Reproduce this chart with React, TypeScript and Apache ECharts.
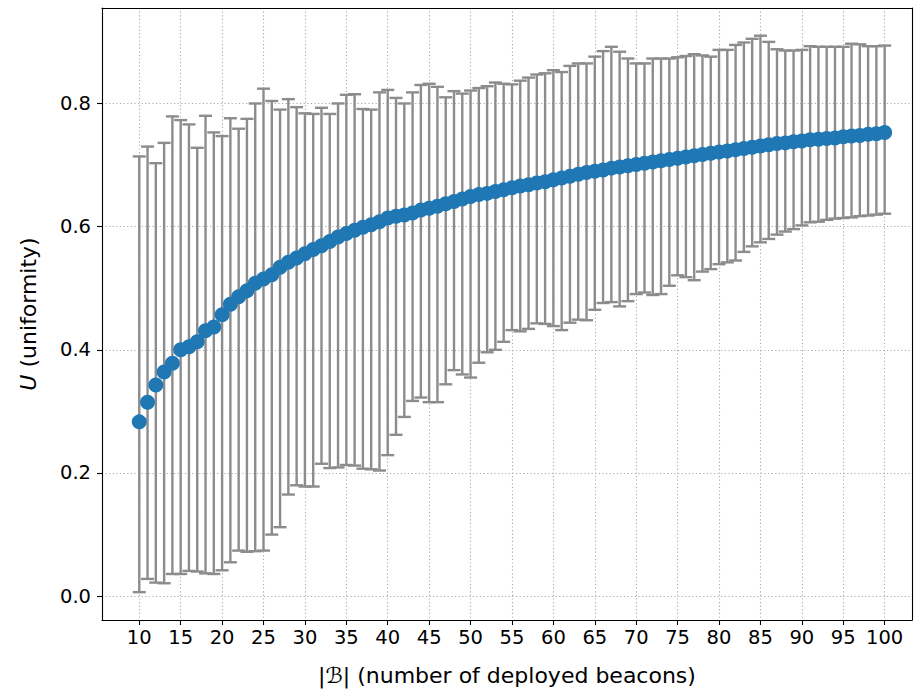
import React, { useEffect, useRef } from "react";
import * as echarts from "echarts";

// Number of deployed beacons |B|
const beacons: number[] = Array.from({ length: 91 }, (_, i) => 10 + i);

// Mean uniformity U per beacon count
const meanU: number[] = [
  0.283, 0.315, 0.343, 0.364, 0.378, 0.4, 0.405, 0.413, 0.431, 0.437,
  0.457, 0.474, 0.486, 0.496, 0.508, 0.515, 0.522, 0.534, 0.542, 0.549,
  0.556, 0.563, 0.569, 0.576, 0.583, 0.589, 0.594, 0.599, 0.603, 0.608,
  0.614, 0.617, 0.619, 0.622, 0.627, 0.63, 0.633, 0.637, 0.641, 0.645,
  0.649, 0.652, 0.654, 0.657, 0.66, 0.663, 0.666, 0.668, 0.671, 0.673,
  0.676, 0.679, 0.682, 0.685, 0.688, 0.69, 0.692, 0.695, 0.697, 0.699,
  0.701, 0.703, 0.705, 0.707, 0.709, 0.711, 0.713, 0.715, 0.717, 0.719,
  0.721, 0.723, 0.725, 0.727, 0.729, 0.731, 0.733, 0.735, 0.736, 0.738,
  0.739, 0.741, 0.742, 0.743, 0.744, 0.746, 0.747, 0.748, 0.75, 0.751,
  0.753,
];

// Upper end of each error bar
const upperU: number[] = [
  0.714, 0.73, 0.703, 0.736, 0.779, 0.773, 0.766, 0.728, 0.78, 0.753,
  0.747, 0.776, 0.759, 0.775, 0.8, 0.824, 0.804, 0.79, 0.807, 0.794,
  0.784, 0.783, 0.793, 0.783, 0.8, 0.814, 0.815, 0.791, 0.79, 0.818,
  0.822, 0.809, 0.8, 0.818, 0.83, 0.832, 0.827, 0.81, 0.82, 0.816,
  0.821, 0.825, 0.828, 0.834, 0.832, 0.831, 0.837, 0.842, 0.847, 0.849,
  0.854, 0.851, 0.861, 0.865, 0.865, 0.876, 0.885, 0.892, 0.884, 0.873,
  0.865, 0.865, 0.873, 0.873, 0.873, 0.875, 0.877, 0.88, 0.878, 0.876,
  0.887, 0.887, 0.895, 0.899, 0.905, 0.91, 0.9, 0.888, 0.886, 0.886,
  0.887, 0.893, 0.892, 0.892, 0.892, 0.892, 0.897, 0.896, 0.893, 0.893,
  0.894,
];

// Lower end of each error bar
const lowerU: number[] = [
  0.0065, 0.028, 0.022, 0.021, 0.036, 0.036, 0.041, 0.04, 0.037, 0.036,
  0.042, 0.055, 0.074, 0.072, 0.073, 0.074, 0.1, 0.112, 0.165, 0.18,
  0.178, 0.178, 0.215, 0.208, 0.209, 0.213, 0.212, 0.207, 0.206, 0.204,
  0.229, 0.262, 0.291, 0.317, 0.3225, 0.315, 0.315, 0.344, 0.367, 0.36,
  0.355, 0.379, 0.396, 0.4, 0.413, 0.432, 0.43, 0.434, 0.443, 0.442,
  0.4385, 0.432, 0.444, 0.449, 0.448, 0.465, 0.476, 0.4775, 0.4705, 0.479,
  0.4905, 0.493, 0.489, 0.4905, 0.504, 0.521, 0.518, 0.513, 0.527, 0.531,
  0.539, 0.542, 0.545, 0.559, 0.568, 0.5745, 0.58, 0.587, 0.592, 0.596,
  0.602, 0.607, 0.608, 0.611, 0.613, 0.614, 0.615, 0.617, 0.618, 0.6195,
  0.621,
];

const xTicks: number[] = [10, 15, 20, 25, 30, 35, 40, 45, 50, 55, 60, 65, 70, 75, 80, 85, 90, 95, 100];
const yTicks: number[] = [0, 0.2, 0.4, 0.6, 0.8];

const FONT = "DejaVu Sans";
const TICK_SIZE = 19.5;
const TITLE_SIZE = 22;
const BAR_COLOR = "#8c8c8c";
const DOT_COLOR = "#1f77b4";

export default function App() {
  const ref = useRef<HTMLDivElement>(null);

  useEffect(() => {
    if (!ref.current) return;
    const chart = echarts.init(ref.current, null, { renderer: "svg" });

    const gridLine = {
      show: true,
      lineStyle: { color: "#ababab", width: 1.1, type: [1.2, 2.4] as any },
    };
    const frame = { show: true, onZero: false, lineStyle: { color: "#000", width: 1.1 } };

    const option: any = {
      animation: false,
      backgroundColor: "#ffffff",
      grid: { left: 102, top: 8, right: 2, bottom: 73, containLabel: false },
      xAxis: [
        {
          type: "value",
          min: 5.5,
          max: 103.3,
          name: "{b||ℬ|} (number of deployed beacons)",
          nameLocation: "middle",
          nameGap: 44,
          nameTextStyle: {
            fontFamily: FONT,
            fontSize: TITLE_SIZE,
            color: "#000",
            rich: { b: { fontFamily: FONT, fontSize: TITLE_SIZE, fontStyle: "italic", color: "#000" } },
          },
          axisLine: frame,
          axisTick: { show: true, length: 5, inside: false, customValues: xTicks, lineStyle: { color: "#000", width: 1.1 } },
          axisLabel: {
            show: true,
            customValues: xTicks,
            margin: 7,
            fontFamily: FONT,
            fontSize: TICK_SIZE,
            color: "#000",
          },
          splitLine: gridLine,
        },
        {
          type: "value",
          position: "top",
          min: 5.5,
          max: 103.3,
          axisLine: frame,
          axisTick: { show: false },
          axisLabel: { show: false },
          splitLine: { show: false },
        },
      ],
      yAxis: [
        {
          type: "value",
          min: -0.0387,
          max: 0.955,
          name: "{i|U} (uniformity)",
          nameLocation: "middle",
          nameRotate: 90,
          nameGap: 63,
          nameTextStyle: {
            fontFamily: FONT,
            fontSize: TITLE_SIZE,
            color: "#000",
            rich: { i: { fontFamily: FONT, fontSize: TITLE_SIZE, fontStyle: "italic", color: "#000" } },
          },
          axisLine: frame,
          axisTick: { show: true, length: 5, inside: false, customValues: yTicks, lineStyle: { color: "#000", width: 1.1 } },
          axisLabel: {
            show: true,
            customValues: yTicks,
            margin: 11,
            fontFamily: FONT,
            fontSize: TICK_SIZE,
            color: "#000",
            formatter: (v: number) => v.toFixed(1),
          },
          splitLine: gridLine,
        },
        {
          type: "value",
          position: "right",
          min: -0.0387,
          max: 0.955,
          axisLine: frame,
          axisTick: { show: false },
          axisLabel: { show: false },
          splitLine: { show: false },
        },
      ],
      series: [
        {
          type: "custom",
          name: "range",
          xAxisIndex: 0,
          yAxisIndex: 0,
          z: 2,
          data: beacons.map((b, i) => [b, lowerU[i], upperU[i]]),
          renderItem: (_params: any, api: any) => {
            const x = api.value(0);
            const lo = api.coord([x, api.value(1)]);
            const hi = api.coord([x, api.value(2)]);
            const cap = 6.5;
            const style = { stroke: BAR_COLOR, lineWidth: 2.4, fill: "none" };
            return {
              type: "group",
              children: [
                { type: "line", shape: { x1: hi[0], y1: hi[1], x2: lo[0], y2: lo[1] }, style },
                { type: "line", shape: { x1: hi[0] - cap, y1: hi[1], x2: hi[0] + cap, y2: hi[1] }, style },
                { type: "line", shape: { x1: lo[0] - cap, y1: lo[1], x2: lo[0] + cap, y2: lo[1] }, style },
              ],
            };
          },
        },
        {
          type: "scatter",
          name: "mean",
          xAxisIndex: 0,
          yAxisIndex: 0,
          z: 3,
          symbol: "circle",
          symbolSize: 15,
          itemStyle: { color: DOT_COLOR, opacity: 1 },
          data: beacons.map((b, i) => [b, meanU[i]]),
        },
      ],
    };

    chart.setOption(option);
    return () => chart.dispose();
  }, []);

  return (
    <div
      ref={ref}
      style={{ position: "fixed", left: 0, top: 0, width: 914, height: 693, background: "#fff" }}
    />
  );
}
